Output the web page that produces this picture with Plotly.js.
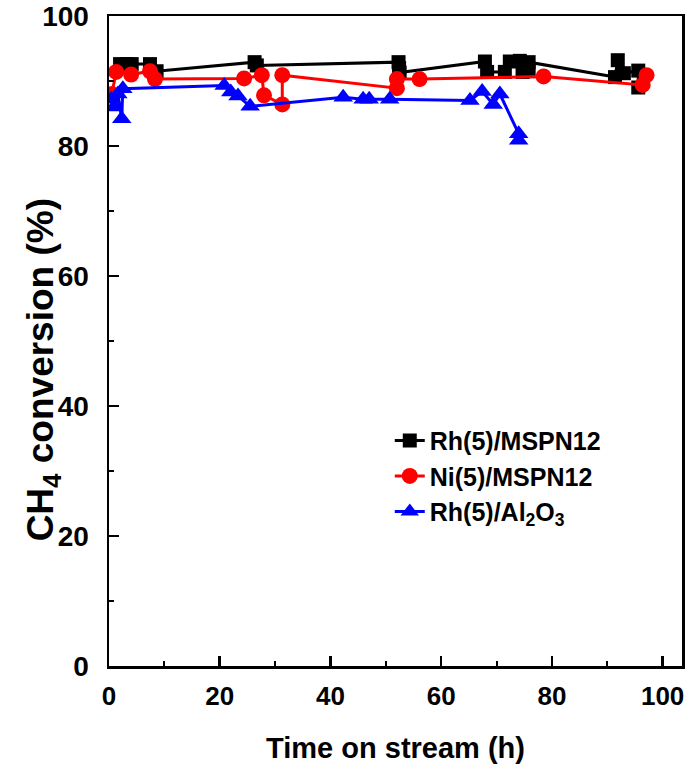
<!DOCTYPE html>
<html>
<head>
<meta charset="utf-8">
<script src="https://cdn.plot.ly/plotly-3.0.1.min.js"></script>
<style>html,body{margin:0;padding:0;background:#fff;}#chart{width:685px;height:776px;}</style>
</head>
<body>
<div id="chart"></div>
<script>
// Rh(5)/MSPN12
const rhMspnTime = [2.0, 3.2, 4.1, 7.4, 8.6, 26.3, 26.7, 52.3, 52.4, 52.5, 67.9, 68.3, 71.5, 72.4, 74.2, 74.7, 75.8, 75.8, 91.4, 91.9, 93.0, 95.6, 95.6];
const rhMspnConv = [92.6, 92.6, 92.6, 92.6, 91.5, 92.9, 92.4, 92.9, 92.0, 91.3, 93.0, 91.4, 91.4, 93.0, 93.1, 91.4, 91.5, 92.9, 90.6, 93.2, 91.2, 91.6, 89.0];
// Ni(5)/MSPN12
const niMspnTime = [0.5, 1.3, 4.0, 7.4, 8.3, 24.4, 27.6, 28.0, 31.3, 31.3, 52.0, 52.0, 56.1, 78.5, 96.4, 97.1];
const niMspnConv = [88.0, 91.4, 91.0, 91.5, 90.3, 90.4, 90.9, 87.8, 86.4, 90.9, 88.9, 90.3, 90.3, 90.7, 89.4, 90.9];
// Rh(5)/Al2O3
const rhAlTime = [0.4, 0.9, 1.6, 2.3, 2.5, 20.8, 22.0, 23.3, 25.5, 42.3, 45.9, 47.0, 50.7, 65.2, 67.4, 69.4, 70.6, 74.0, 74.0];
const rhAlConv = [87.2, 86.0, 88.0, 84.2, 88.8, 89.3, 88.3, 87.7, 86.1, 87.5, 87.2, 87.2, 87.2, 87.0, 88.4, 86.4, 88.0, 81.9, 80.9];

const seriesNames = ['Rh(5)/MSPN12', 'Ni(5)/MSPN12', 'Rh(5)/Al<sub>2</sub>O<sub>3</sub>'];
const xTicks = [0, 20, 40, 60, 80, 100];
const yTicks = [0, 20, 40, 60, 80, 100];
const xTitle = 'Time on stream (h)';
const yTitle = 'CH<sub>4</sub> conversion (%)';

const FONT = 'Liberation Sans, Arial, sans-serif';

const traces = [
  {x: rhMspnTime, y: rhMspnConv, name: seriesNames[0], legendgroup: 'a', mode: 'lines+markers',
   line: {color: '#000000', width: 3}, marker: {symbol: 'square', size: 14, color: '#000000'}},
  {x: niMspnTime, y: niMspnConv, name: seriesNames[1], legendgroup: 'b', mode: 'lines+markers',
   line: {color: '#ff0000', width: 3}, marker: {symbol: 'circle', size: 16, color: '#ff0000'}},
  {x: rhAlTime, y: rhAlConv, name: seriesNames[2], legendgroup: 'c', mode: 'lines+markers',
   line: {color: '#0000ff', width: 3}, marker: {symbol: 'triangle-up', size: 17, color: '#0000ff'}}
];

const axisCommon = {
  showline: true, linecolor: '#000', linewidth: 2.5, mirror: true,
  ticks: 'inside', ticklen: 10, tickwidth: 2.5, tickcolor: '#000',
  showgrid: false, zeroline: false,
  ticklabeloverflow: 'allow',
  minor: {ticks: 'inside', ticklen: 5, tickwidth: 2, tickcolor: '#000', dtick: 10, showgrid: false}
};

const layout = {
  width: 685, height: 776,
  margin: {l: 109, r: 3, t: 16, b: 110},
  paper_bgcolor: '#fff', plot_bgcolor: '#fff',
  showlegend: true,
  xaxis: Object.assign({}, axisCommon, {
    range: [0, 103.5], tickvals: xTicks, ticktext: xTicks.map(String),
    tickfont: {family: FONT, size: 26, color: '#000', weight: 'bold'},
    ticklabelstandoff: 5,
    title: {text: xTitle, font: {family: FONT, size: 29, color: '#000', weight: 'bold'}, standoff: 28}
  }),
  yaxis: Object.assign({}, axisCommon, {
    range: [0, 100], tickvals: yTicks, ticktext: yTicks.map(String),
    tickfont: {family: FONT, size: 28, color: '#000', weight: 'bold'},
    ticklabelstandoff: 12
  }),
  annotations: [{
    text: yTitle, textangle: -90, showarrow: false,
    xref: 'paper', yref: 'paper', x: -0.115, y: 0.455, xanchor: 'center', yanchor: 'middle',
    font: {family: FONT, size: 37, color: '#000', weight: 'bold'}
  }],
  legend: {
    x: 0.49, y: 0.382, xanchor: 'left', yanchor: 'top',
    bgcolor: 'rgba(0,0,0,0)', borderwidth: 0,
    font: {family: FONT, size: 25, color: '#000', weight: 'bold'},
    tracegroupgap: 13, traceorder: 'normal'
  }
};

Plotly.newPlot('chart', traces, layout, {displayModeBar: false, staticPlot: true});
</script>
</body>
</html>
